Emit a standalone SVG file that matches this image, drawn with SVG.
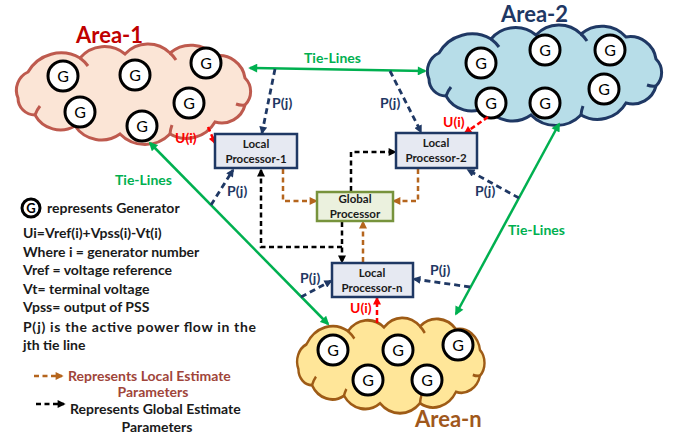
<svg xmlns="http://www.w3.org/2000/svg" xmlns:xlink="http://www.w3.org/1999/xlink" width="677" height="437" viewBox="0 0 677 437">
<style>
text{font-family:"Lato","Liberation Sans",sans-serif;font-weight:bold}
.gc{fill:#fff;stroke:#000;stroke-width:3}
.gt{font-size:16px;font-weight:normal;text-anchor:middle;fill:#000}
.lp{fill:#E6E9F2;stroke:#1F3864;stroke-width:2.5}
.pt{font-size:11.5px;text-anchor:middle;fill:#1a1a1a}
.tie{fill:none;stroke:#00B050;stroke-width:2.5;marker-start:url(#ag);marker-end:url(#ag)}
.pj{fill:none;stroke:#1F3864;stroke-width:2.8;stroke-dasharray:6 4;marker-end:url(#an)}
.ui{fill:none;stroke:#FF0000;stroke-width:2.5;stroke-dasharray:5 3;marker-end:url(#ar)}
.le{fill:none;stroke:#B5651D;stroke-width:2.5;stroke-dasharray:5 3.5;marker-end:url(#ab)}
.ge{fill:none;stroke:#000;stroke-width:2.5;stroke-dasharray:5 3.5;marker-end:url(#ak)}
.tl{font-size:14px;fill:#00B050}
.pl{font-size:14px;fill:#1F3864}
.ul{font-size:14px;fill:#FF0000}
.lg{font-size:14px;fill:#1a1a1a}
.cl{stroke-width:3;vector-effect:non-scaling-stroke}
.an{font-size:22px}
</style>
<defs>
<marker id="ag" viewBox="0 0 10 10" refX="8" refY="5" markerWidth="10" markerHeight="9" markerUnits="userSpaceOnUse" orient="auto-start-reverse"><path d="M0,0 L10,5 L0,10 z" fill="#00B050"/></marker>
<marker id="an" viewBox="0 0 10 10" refX="8" refY="5" markerWidth="9" markerHeight="8" markerUnits="userSpaceOnUse" orient="auto"><path d="M0,0 L10,5 L0,10 z" fill="#1F3864"/></marker>
<marker id="ar" viewBox="0 0 10 10" refX="8" refY="5" markerWidth="9" markerHeight="8" markerUnits="userSpaceOnUse" orient="auto"><path d="M0,0 L10,5 L0,10 z" fill="#FF0000"/></marker>
<marker id="ab" viewBox="0 0 10 10" refX="8" refY="5" markerWidth="9" markerHeight="8" markerUnits="userSpaceOnUse" orient="auto"><path d="M0,0 L10,5 L0,10 z" fill="#B5651D"/></marker>
<marker id="ak" viewBox="0 0 10 10" refX="8" refY="5" markerWidth="9" markerHeight="8" markerUnits="userSpaceOnUse" orient="auto"><path d="M0,0 L10,5 L0,10 z" fill="#000"/></marker>
<path id="cloud" d="M28,72 A38,38 0 0 1 80,58 A32,32 0 0 1 125,54 A31.5,31.5 0 0 1 170,53 A32,32 0 0 1 215,56 A26,26 0 0 1 245,78 A19,19 0 0 1 245,105 A24,24 0 0 1 215,122 A33,33 0 0 1 170,134 A35,35 0 0 1 120,134 A32,32 0 0 1 75,126 A29,29 0 0 1 35,115 A17,17 0 0 1 18,98 A20,20 0 0 1 28,72 Z"/>
<path id="curls" fill="none" d="M80,58 A38,38 0 0 1 88,66 M170,53 A31.5,31.5 0 0 1 176,60 M245,105 A19,19 0 0 1 236,104 M170,134 A33,33 0 0 1 172,125 M75,126 A32,32 0 0 1 78,119 M35,115 A29,29 0 0 1 40,106"/>
</defs>

<g id="area-1">
<use xlink:href="#cloud" class="cl" fill="#FBE5D6" stroke="#BE5A4E"/>
<use xlink:href="#curls" class="cl" stroke="#BE5A4E"/>
<text class="an" x="76" y="43" fill="#C00000">Area-1</text>
<circle class="gc" cx="63" cy="76" r="15"/><text class="gt" x="63" y="82">G</text>
<circle class="gc" cx="135" cy="75" r="15"/><text class="gt" x="135" y="81">G</text>
<circle class="gc" cx="206" cy="63" r="15"/><text class="gt" x="206" y="69">G</text>
<circle class="gc" cx="80" cy="112" r="15"/><text class="gt" x="80" y="118">G</text>
<circle class="gc" cx="189" cy="103" r="15"/><text class="gt" x="189" y="109">G</text>
<circle class="gc" cx="142" cy="126" r="15"/><text class="gt" x="142" y="132">G</text>
</g>

<g id="area-2">
<use xlink:href="#cloud" class="cl" transform="translate(411,-19)" fill="#B7DDE8" stroke="#1F3864"/>
<use xlink:href="#curls" class="cl" transform="translate(411,-19)" stroke="#1F3864"/>
<text class="an" x="501" y="22" fill="#1F3864">Area-2</text>
<circle class="gc" cx="481" cy="63" r="15"/><text class="gt" x="481" y="69">G</text>
<circle class="gc" cx="545" cy="50" r="15"/><text class="gt" x="545" y="56">G</text>
<circle class="gc" cx="610" cy="50" r="15"/><text class="gt" x="610" y="56">G</text>
<circle class="gc" cx="491" cy="103" r="15"/><text class="gt" x="491" y="109">G</text>
<circle class="gc" cx="545" cy="103" r="15"/><text class="gt" x="545" y="109">G</text>
<circle class="gc" cx="604" cy="89" r="15"/><text class="gt" x="604" y="95">G</text>
</g>

<g id="area-n">
<use xlink:href="#cloud" class="cl" transform="translate(284,276) scale(0.8,0.95)" fill="#FFE699" stroke="#9E5B16"/>
<use xlink:href="#curls" class="cl" transform="translate(284,276) scale(0.8,0.95)" stroke="#9E5B16"/>
<text class="an" x="415" y="427" fill="#A0581C">Area-n</text>
<circle class="gc" cx="333" cy="350" r="15"/><text class="gt" x="333" y="356">G</text>
<circle class="gc" cx="398" cy="350" r="15"/><text class="gt" x="398" y="356">G</text>
<circle class="gc" cx="458" cy="345" r="15"/><text class="gt" x="458" y="351">G</text>
<circle class="gc" cx="368" cy="380" r="15"/><text class="gt" x="368" y="386">G</text>
<circle class="gc" cx="427" cy="380" r="15"/><text class="gt" x="427" y="386">G</text>
</g>

<g id="connectors">
<path class="tie" d="M250,68 L425,71"/>
<path class="tie" d="M150,143 L328,324"/>
<path class="tie" d="M559,124 L456,314"/>
<path class="pj" d="M275,69 L262,133"/>
<path class="pj" d="M390,71 L421,132"/>
<path class="pj" d="M211,205 L233,170"/>
<path class="pj" d="M301,297 L331,281"/>
<path class="pj" d="M470,287 L414,279"/>
<path class="pj" d="M519,198 L468,170"/>
<path class="ui" d="M208,127 L215,143"/>
<path class="ui" d="M488,117 L465,133"/>
<path class="ui" d="M377,323 L377,298"/>
<path class="le" d="M283,169 V201 H316"/>
<path class="le" d="M418,169 V201 H394"/>
<path class="le" d="M363,262 V222"/>
<path class="ge" d="M351,191 V152 H395"/>
<path class="ge" d="M342,222 V262"/>
<path class="ge" d="M342,247 H261 V170"/>
</g>

<g id="labels">
<text class="tl" x="304" y="63">Tie-Lines</text>
<text class="tl" x="115" y="185">Tie-Lines</text>
<text class="tl" x="508" y="235">Tie-Lines</text>
<text class="pl" x="272" y="108">P(j)</text>
<text class="pl" x="380" y="108">P(j)</text>
<text class="pl" x="227" y="196">P(j)</text>
<text class="pl" x="300" y="283">P(j)</text>
<text class="pl" x="430" y="275">P(j)</text>
<text class="pl" x="475" y="196">P(j)</text>
<text class="ul" x="175" y="143">U(i)</text>
<text class="ul" x="443" y="127">U(i)</text>
<text class="ul" x="350" y="313">U(i)</text>
</g>

<g id="lp1"><rect class="lp" x="215" y="134" width="82" height="34"/><text class="pt" x="256" y="148">Local</text><text class="pt" x="256" y="163">Processor-1</text></g>
<g id="lp2"><rect class="lp" x="396" y="133" width="81" height="35"/><text class="pt" x="436" y="147">Local</text><text class="pt" x="436" y="162">Processor-2</text></g>
<g id="gp"><rect x="317" y="192" width="76" height="29" fill="#EBF1DE" stroke="#77933C" stroke-width="2.5"/><text class="pt" x="355" y="203">Global</text><text class="pt" x="355" y="218">Processor</text></g>
<g id="lpn"><rect class="lp" x="332" y="263" width="81" height="34"/><text class="pt" x="372" y="277">Local</text><text class="pt" x="372" y="292">Processor-n</text></g>

<g id="legend">
<circle cx="31" cy="208" r="9" fill="#fff" stroke="#000" stroke-width="3"/>
<text x="31" y="213" font-size="13" text-anchor="middle" fill="#000">G</text>
<text class="lg" x="47" y="213">represents Generator</text>
<text class="lg" x="23" y="238">Ui=Vref(i)+Vpss(i)-Vt(i)</text>
<text class="lg" x="23" y="257">Where i = generator number</text>
<text class="lg" x="23" y="275">Vref = voltage reference</text>
<text class="lg" x="23" y="294">Vt= terminal voltage</text>
<text class="lg" x="23" y="312">Vpss= output of PSS</text>
<text class="lg" x="23" y="332" textLength="233" lengthAdjust="spacing">P(j) is the active power flow in the</text>
<text class="lg" x="23" y="350">jth tie line</text>
<path class="le" d="M34,376 H62"/>
<text class="lg" x="68" y="381" style="fill:#A0453A">Represents Local Estimate</text>
<text class="lg" x="153" y="397" text-anchor="middle" style="fill:#A0453A">Parameters</text>
<path class="ge" d="M36,404 H64"/>
<text class="lg" x="70" y="414">Represents Global Estimate</text>
<text class="lg" x="157" y="432" text-anchor="middle">Parameters</text>
</g>
</svg>
